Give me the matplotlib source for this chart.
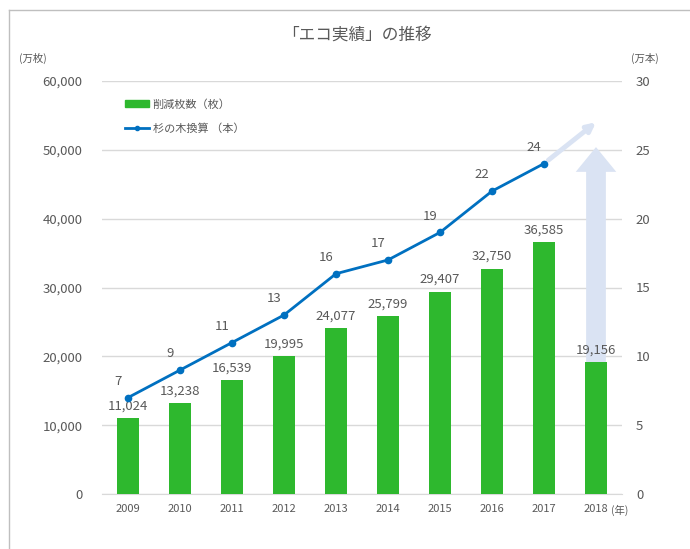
import numpy as np
import matplotlib.pyplot as plt
from matplotlib.lines import Line2D
from matplotlib.patches import Patch, FancyArrow

plt.rcParams['font.family'] = ['Noto Sans CJK JP', 'DejaVu Sans']

# data
years = ['2009', '2010', '2011', '2012', '2013', '2014', '2015', '2016', '2017', '2018']
sheets = [11024, 13238, 16539, 19995, 24077, 25799, 29407, 32750, 36585, 19156]
trees = [7, 9, 11, 13, 16, 17, 19, 22, 24]
tree_next = 27  # projected point for 2018

green = '#2EB82E'
blue = '#0070C0'
pale = '#DAE3F3'
grey = '#595959'

fig = plt.figure(figsize=(6.9, 5.49), dpi=100)
ax = fig.add_axes([102 / 690, 55 / 549, 520 / 690, 413 / 549])
ax2 = ax.twinx()

x = np.arange(len(years))

# bars + labels
ax.bar(x, sheets, width=0.43, color=green, zorder=3)
for xi, v in zip(x, sheets):
    ax.annotate(f'{v:,}', (xi, v), xytext=(0, 4), textcoords='offset points',
                ha='center', va='bottom', fontsize=9.5, color=grey, zorder=4)

# big pale arrow behind the last bar
ax.add_patch(FancyArrow(9, 0, 0, 50400, width=0.38, head_width=0.78,
                        head_length=3600, length_includes_head=True,
                        color=pale, lw=0, zorder=1))

ax.set_xlim(-0.5, 9.5)
ax.set_ylim(0, 60000)
ax.set_yticks(np.arange(0, 60001, 10000))
ax.set_yticklabels([f'{t:,}' for t in range(0, 60001, 10000)])
ax.set_xticks(x)
ax.set_xticklabels(years)
ax.grid(axis='y', color='#D9D9D9', lw=1, zorder=0)
ax.set_axisbelow(True)
for s in ['top', 'right', 'left']:
    ax.spines[s].set_visible(False)
ax.spines['bottom'].set_color('#D9D9D9')
ax.tick_params(axis='y', length=0, pad=14, labelsize=9.5, labelcolor=grey)
ax.tick_params(axis='x', length=0, pad=7, labelsize=8, labelcolor=grey)

# line on the right axis
tx = x[:len(trees)]
ax2.annotate('', xy=(9, tree_next), xytext=(8, trees[-1]),
             arrowprops=dict(arrowstyle='-|>,head_length=0.5,head_width=0.25',
                             color=pale, lw=3.5, shrinkA=4, shrinkB=0))
ax2.plot(tx, trees, color=blue, lw=2, marker='o', markersize=4.5, zorder=5)
for xi, v in zip(tx, trees):
    ax2.annotate(str(v), (xi, v), xytext=(-7, 7), textcoords='offset points',
                 ha='center', va='bottom', fontsize=9.5, color=grey)

ax2.set_ylim(0, 30)
ax2.set_yticks(np.arange(0, 31, 5))
for s in ax2.spines.values():
    s.set_visible(False)
ax2.tick_params(axis='y', length=0, pad=10, labelsize=9.5, labelcolor=grey)

# legend
handles = [Patch(color=green), Line2D([], [], color=blue, lw=2, marker='o', markersize=3)]
ax2.legend(handles, ['削減枚数（枚）', '杉の木換算 （本）'], loc='upper left',
           bbox_to_anchor=(0.025, 0.98), frameon=False, fontsize=8,
           labelcolor=grey, handlelength=2.2, handleheight=0.6,
           handletextpad=0.3, labelspacing=1.2)

# titles and unit labels
fig.text(357 / 690, 1 - 35 / 549, '「エコ実績」の推移', ha='center', va='center',
         fontsize=12, color=grey)
fig.text(33 / 690, 1 - 58 / 549, '(万枚)', ha='center', va='center', fontsize=7.5, color=grey)
fig.text(645 / 690, 1 - 58 / 549, '(万本)', ha='center', va='center', fontsize=7.5, color=grey)
fig.text(620 / 690, 1 - 510 / 549, '(年)', ha='center', va='center', fontsize=7.5, color=grey)

# chart frame (cropped: only top and left edges show)
fig.add_artist(Line2D([9 / 690, 1], [1 - 10 / 549, 1 - 10 / 549], color='#BFBFBF', lw=1))
fig.add_artist(Line2D([9 / 690, 9 / 690], [0, 1 - 10 / 549], color='#BFBFBF', lw=1))

fig.savefig('out.png', dpi=100)
